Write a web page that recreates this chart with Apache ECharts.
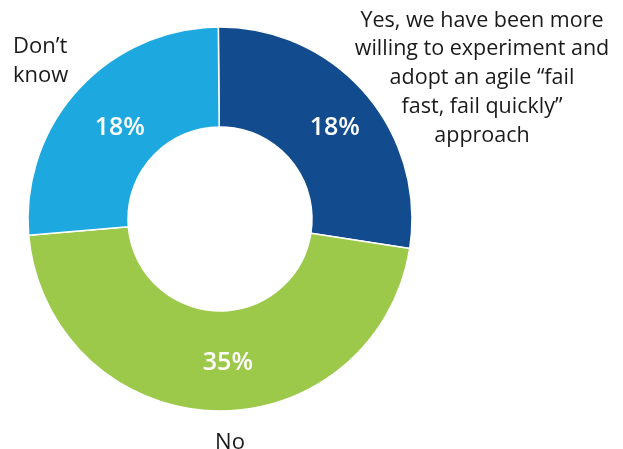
<!DOCTYPE html>
<html>
<head>
<meta charset="utf-8">
<style>
  html, body { margin: 0; padding: 0; background: #ffffff; }
  #chart { width: 623px; height: 449px; }
</style>
<script src="https://cdn.jsdelivr.net/npm/echarts@6/dist/echarts.min.js"></script>
</head>
<body>
<div id="chart"></div>
<script>
// Categories (clockwise from the top)
const categories = [
  'Yes, we have been more\nwilling to experiment and\nadopt an agile \u201cfail\nfast, fail quickly\u201d\napproach',
  'No',
  'Don\u2019t\nknow'
];
// Percentages printed on the slices
const percentLabels = [18, 35, 18];
// Slice sizes as drawn in the picture (share of the full ring, %)
const sliceShares = [27.6, 46.2, 26.2];
const colors = ['#124C8F', '#9DC94B', '#1EA8E0'];

const chart = echarts.init(document.getElementById('chart'), null, { renderer: 'canvas' });

const FONT = '"Open Sans", "Noto Sans", sans-serif';
const labelNudge = [{ dx: 5, dy: 4 }, { dx: 13, dy: -1 }, { dx: 7, dy: 7 }];

const option = {
  animation: false,
  series: [{
    type: 'pie',
    center: [220, 219],
    radius: [92, 192],
    startAngle: 90.5,
    clockwise: true,
    avoidLabelOverlap: false,
    itemStyle: { borderColor: '#ffffff', borderWidth: 1.5 },
    label: {
      show: true,
      position: 'inside',
      color: '#ffffff',
      fontFamily: FONT,
      fontWeight: 600,
      fontSize: 25,
      formatter: p => percentLabels[p.dataIndex] + '%'
    },
    labelLine: { show: false },
    emphasis: { disabled: true },
    labelLayout: p => labelNudge[p.dataIndex],
    data: sliceShares.map((v, i) => ({
      value: v,
      name: categories[i],
      itemStyle: { color: colors[i] }
    }))
  }],
  graphic: [
    {
      type: 'text', x: 482, y: 6,
      style: {
        text: categories[0], fill: '#1a1a1a', font: '21.5px ' + FONT,
        align: 'center', lineHeight: 28.75
      }
    },
    {
      type: 'text', x: 13, y: 32,
      style: {
        text: categories[2], fill: '#1a1a1a', font: '22px ' + FONT,
        align: 'left', lineHeight: 29
      }
    },
    {
      type: 'text', x: 230, y: 428,
      style: {
        text: categories[1], fill: '#1a1a1a', font: '22px ' + FONT,
        align: 'center', lineHeight: 29
      }
    }
  ]
};
chart.setOption(option);
</script>
</body>
</html>
